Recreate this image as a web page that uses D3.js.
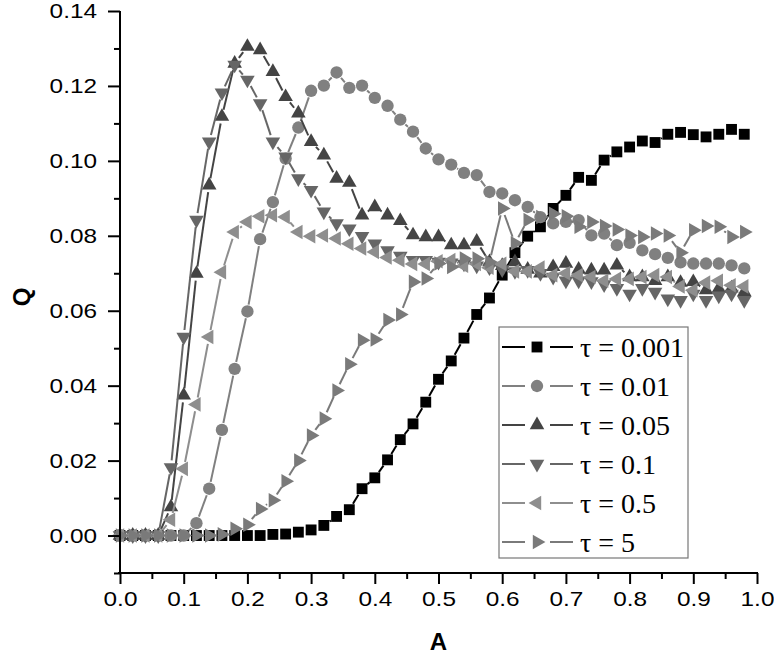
<!DOCTYPE html>
<html>
<head>
<meta charset="utf-8">
<script src="https://cdn.jsdelivr.net/npm/d3@7"></script>
<style>
  body { margin: 0; background: #fff; }
  svg { display: block; }
</style>
</head>
<body>
<svg id="chart" width="774" height="658"></svg>
<script>
// A values (x), one point every 0.02
const aValues = [0.00, 0.02, 0.04, 0.06, 0.08, 0.10, 0.12, 0.14, 0.16, 0.18,
                 0.20, 0.22, 0.24, 0.26, 0.28, 0.30, 0.32, 0.34, 0.36, 0.38,
                 0.40, 0.42, 0.44, 0.46, 0.48, 0.50, 0.52, 0.54, 0.56, 0.58,
                 0.60, 0.62, 0.64, 0.66, 0.68, 0.70, 0.72, 0.74, 0.76, 0.78,
                 0.80, 0.82, 0.84, 0.86, 0.88, 0.90, 0.92, 0.94, 0.96, 0.98];

const q0001 = [0, 0, 0, 0, 0, 0, 0, 0, 0, 0,
               0.0000, 0.0000, 0.0003, 0.0004, 0.0009, 0.0015, 0.0027, 0.0051, 0.0069, 0.0125,
               0.0154, 0.0202, 0.0256, 0.0298, 0.0356, 0.0417, 0.0466, 0.0527, 0.0590, 0.0634,
               0.0695, 0.0755, 0.0799, 0.0824, 0.0873, 0.0908, 0.0956, 0.0948, 0.1002, 0.1024,
               0.1037, 0.1053, 0.1049, 0.1071, 0.1076, 0.1070, 0.1064, 0.1071, 0.1084, 0.1071];

const q001 = [0, 0, 0, 0, 0, 0, 0.0033, 0.0125, 0.0282, 0.0445,
              0.0598, 0.0791, 0.0890, 0.1006, 0.1089, 0.1187, 0.1201, 0.1236, 0.1195, 0.1201,
              0.1168, 0.1147, 0.1110, 0.1078, 0.1033, 0.1004, 0.0990, 0.0968, 0.0962, 0.0917,
              0.0913, 0.0895, 0.0877, 0.0850, 0.0833, 0.0837, 0.0842, 0.0801, 0.0806, 0.0775,
              0.0781, 0.0761, 0.0751, 0.0741, 0.0729, 0.0726, 0.0726, 0.0726, 0.0721, 0.0713];

const q005 = [0, 0, 0, 0, 0.0076, 0.0374, 0.0699, 0.0935, 0.1118, 0.1260,
              0.1305, 0.1296, 0.1238, 0.1171, 0.1127, 0.1051, 0.1015, 0.0953, 0.0942, 0.0855,
              0.0877, 0.0855, 0.0840, 0.0802, 0.0797, 0.0797, 0.0775, 0.0775, 0.0785, 0.0730,
              0.0720, 0.0730, 0.0710, 0.0700, 0.0717, 0.0726, 0.0710, 0.0708, 0.0708, 0.0721,
              0.0690, 0.0690, 0.0680, 0.0690, 0.0675, 0.0677, 0.0655, 0.0659, 0.0660, 0.0650];

const q01 = [0, 0, 0, 0, 0.0182, 0.0530, 0.0842, 0.1051, 0.1182, 0.1256,
             0.1216, 0.1153, 0.1051, 0.1011, 0.0953, 0.0922, 0.0864, 0.0833, 0.0819, 0.0799,
             0.0779, 0.0761, 0.0746, 0.0735, 0.0735, 0.0730, 0.0728, 0.0725, 0.0720, 0.0715,
             0.0710, 0.0705, 0.0708, 0.0700, 0.0690, 0.0680, 0.0680, 0.0678, 0.0670, 0.0660,
             0.0645, 0.0660, 0.0650, 0.0632, 0.0628, 0.0645, 0.0628, 0.0640, 0.0645, 0.0628];

const q05 = [0, 0, 0, 0, 0.0042, 0.0178, 0.0350, 0.0530, 0.0703, 0.0810,
             0.0837, 0.0852, 0.0855, 0.0850, 0.0810, 0.0799, 0.0801, 0.0793, 0.0779, 0.0766,
             0.0757, 0.0742, 0.0735, 0.0725, 0.0725, 0.0732, 0.0735, 0.0720, 0.0725, 0.0715,
             0.0725, 0.0705, 0.0705, 0.0715, 0.0695, 0.0700, 0.0695, 0.0690, 0.0680, 0.0685,
             0.0685, 0.0690, 0.0695, 0.0690, 0.0665, 0.0655, 0.0675, 0.0680, 0.0668, 0.0665];

const q5 = [0, 0, 0, 0, 0, 0, 0, 0, 0.0003, 0.0018,
            0.0029, 0.0071, 0.0094, 0.0145, 0.0200, 0.0267, 0.0312, 0.0387, 0.0457, 0.0521,
            0.0523, 0.0575, 0.0590, 0.0677, 0.0686, 0.0726, 0.0717, 0.0739, 0.0739, 0.0730,
            0.0873, 0.0780, 0.0842, 0.0850, 0.0859, 0.0852, 0.0824, 0.0837, 0.0826, 0.0817,
            0.0801, 0.0797, 0.0806, 0.0801, 0.0755, 0.0815, 0.0826, 0.0824, 0.0797, 0.0810];

const seriesLabels = ["τ = 0.001", "τ = 0.01", "τ = 0.05", "τ = 0.1", "τ = 0.5", "τ = 5"];
const seriesValues = [q0001, q001, q005, q01, q05, q5];
const seriesColors = ["#000000", "#808080", "#444444", "#666666", "#8e8e8e", "#7a7a7a"];
const seriesShapes = ["square", "circle", "up", "down", "left", "right"];

const xTicks = [0.0, 0.1, 0.2, 0.3, 0.4, 0.5, 0.6, 0.7, 0.8, 0.9, 1.0];
const yTicks = [0.00, 0.02, 0.04, 0.06, 0.08, 0.10, 0.12, 0.14];

const svg = d3.select('#chart');
const pLeft = 120, pRight = 757, pTop = 11, pBottom = 573;
const stretch = 1.16;   // tick labels look a bit wide in the original

const x = d3.scaleLinear().domain([0, 1]).range([pLeft, pRight]);
const y = d3.scaleLinear().domain([-0.01, 0.14]).range([pBottom, pTop]);

// marker path + rotation per shape
function symbolFor(shape) {
  if (shape === 'square') return d3.symbol().type(d3.symbolSquare).size(118)();
  if (shape === 'circle') return d3.symbol().type(d3.symbolCircle).size(120)();
  return d3.symbol().type(d3.symbolTriangle).size(92)();
}
const rot = {square: 0, circle: 0, up: 0, down: 180, left: -90, right: 90};

const plot = svg.append('g');

seriesValues.forEach((vals, si) => {
  const col = seriesColors[si];
  const pts = vals.map((v, i) => [x(aValues[i]), y(v)]);

  // lines with a gap round each marker
  const gap = 7;
  const segs = [];
  for (let i = 0; i < pts.length - 1; i++) {
    const [x0, y0] = pts[i], [x1, y1] = pts[i + 1];
    const d = Math.hypot(x1 - x0, y1 - y0);
    if (d <= 2 * gap + 1) continue;
    const ux = (x1 - x0) / d, uy = (y1 - y0) / d;
    segs.push([x0 + ux * gap, y0 + uy * gap, x1 - ux * gap, y1 - uy * gap]);
  }
  plot.append('g').selectAll('line')
    .data(segs)
    .join('line')
    .attr('x1', d => d[0]).attr('y1', d => d[1])
    .attr('x2', d => d[2]).attr('y2', d => d[3])
    .attr('stroke', col)
    .attr('stroke-width', 2);

  plot.append('g').selectAll('path')
    .data(pts)
    .join('path')
    .attr('d', symbolFor(seriesShapes[si]))
    .attr('transform', d => `translate(${d[0]},${d[1]}) rotate(${rot[seriesShapes[si]]})`)
    .attr('fill', col);
});

// axes
const xAxis = d3.axisBottom(x)
  .tickValues(d3.range(0, 1.0001, 0.05))
  .tickSizeOuter(0)
  .tickSize(10)
  .tickFormat(d => xTicks.some(t => Math.abs(t - d) < 1e-6) ? d3.format('.1f')(d) : '');

const gx = svg.append('g')
  .attr('transform', `translate(0,${pBottom})`)
  .call(xAxis);
gx.select('.domain').attr('stroke', '#000').attr('stroke-width', 2).attr('d', `M${pLeft - 2},0H${pRight + 1}`);
gx.selectAll('.tick line')
  .attr('stroke', '#000').attr('stroke-width', 2)
  .attr('y2', d => xTicks.some(t => Math.abs(t - d) < 1e-6) ? 11 : 6);
gx.selectAll('.tick text')
  .attr('y', 33)
  .attr('dy', 0)
  .attr('transform', `scale(${stretch},1)`)
  .style('font-family', '"Liberation Sans", Arial, sans-serif')
  .style('font-size', '21px')
  .attr('fill', '#000');

const yAxis = d3.axisLeft(y)
  .tickValues(d3.range(-0.01, 0.14001, 0.01))
  .tickSizeOuter(0)
  .tickSize(10)
  .tickFormat(d => yTicks.some(t => Math.abs(t - d) < 1e-6) ? d3.format('.2f')(d) : '');

const gy = svg.append('g')
  .attr('transform', `translate(${pLeft},0)`)
  .call(yAxis);
gy.select('.domain').attr('stroke', '#000').attr('stroke-width', 2).attr('d', `M0,${pTop}V${pBottom + 1}`);
gy.selectAll('.tick line')
  .attr('stroke', '#000').attr('stroke-width', 2)
  .attr('x2', d => yTicks.some(t => Math.abs(t - d) < 1e-6) ? -12 : -6);
gy.selectAll('.tick text')
  .attr('x', -23 / stretch)
  .attr('transform', `scale(${stretch},1)`)
  .style('font-family', '"Liberation Sans", Arial, sans-serif')
  .style('font-size', '21px')
  .attr('fill', '#000');

// axis titles
svg.append('text')
  .attr('x', (pLeft + pRight) / 2)
  .attr('y', 650)
  .attr('text-anchor', 'middle')
  .style('font-family', '"Liberation Sans", Arial, sans-serif')
  .style('font-size', '24px')
  .style('font-weight', 'bold')
  .text('A');

svg.append('text')
  .attr('transform', `translate(30,${(pTop + pBottom) / 2 + 5}) rotate(-90)`)
  .attr('text-anchor', 'middle')
  .style('font-family', '"Liberation Sans", Arial, sans-serif')
  .style('font-size', '24px')
  .style('font-weight', 'bold')
  .text('Q');

// legend
const legend = svg.append('g').attr('transform', 'translate(499,327)');
legend.append('rect')
  .attr('width', 189).attr('height', 231)
  .attr('fill', '#fff')
  .attr('stroke', '#777').attr('stroke-width', 1.2);

const items = legend.selectAll('g.item')
  .data(seriesLabels)
  .join('g')
  .attr('class', 'item')
  .attr('transform', (d, i) => `translate(0,${20 + i * 39})`);

items.append('line')
  .attr('x1', 3).attr('x2', 26).attr('y1', 0).attr('y2', 0)
  .attr('stroke', (d, i) => seriesColors[i]).attr('stroke-width', 2);
items.append('line')
  .attr('x1', 51).attr('x2', 74).attr('y1', 0).attr('y2', 0)
  .attr('stroke', (d, i) => seriesColors[i]).attr('stroke-width', 2);
items.append('path')
  .attr('d', (d, i) => symbolFor(seriesShapes[i]))
  .attr('transform', (d, i) => `translate(38,0) rotate(${rot[seriesShapes[i]]})`)
  .attr('fill', (d, i) => seriesColors[i]);
items.append('text')
  .attr('x', 81)
  .attr('y', 10)
  .style('font-family', '"Liberation Serif", "Times New Roman", serif')
  .style('font-size', '28px')
  .attr('fill', '#000')
  .text(d => d);
</script>
</body>
</html>
